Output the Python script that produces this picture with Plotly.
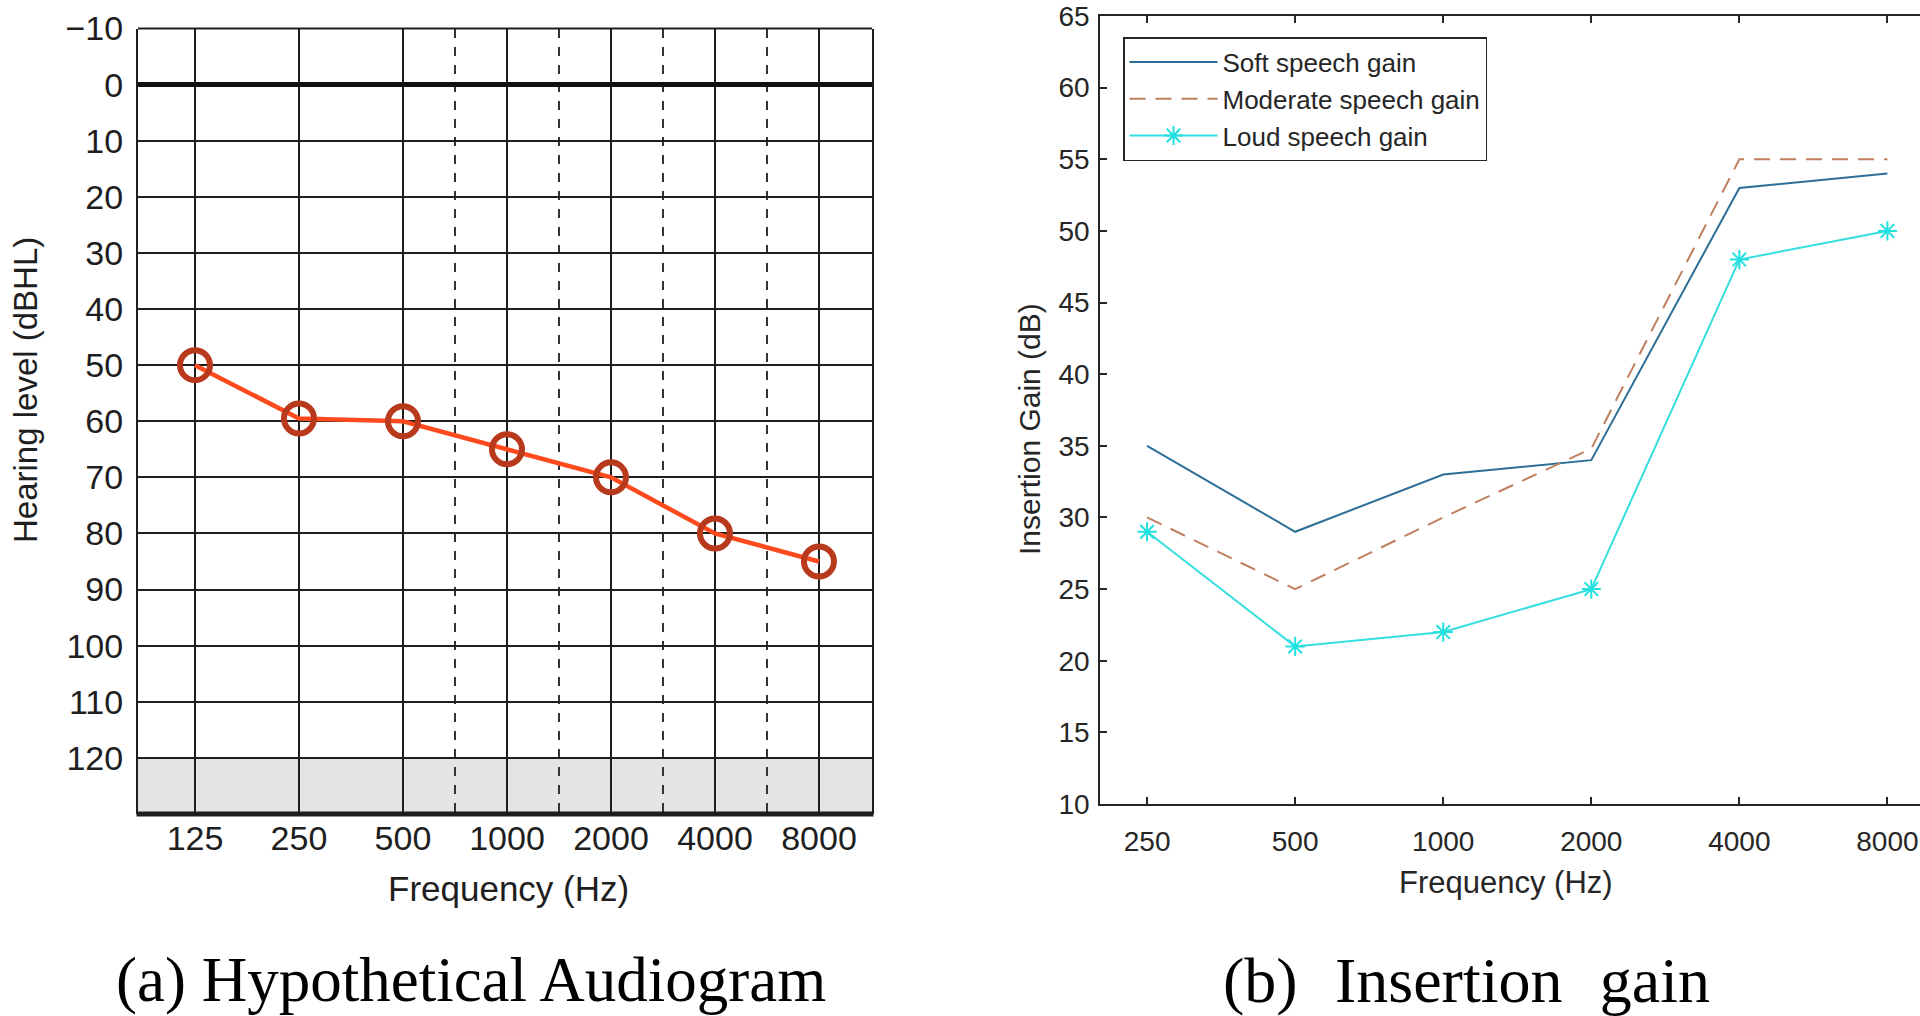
import plotly.graph_objects as go

# ---------------- data ----------------
audio_freq_labels = ["125", "250", "500", "1000", "2000", "4000", "8000"]
audio_levels = [50, 59.5, 60, 65, 70, 80, 85]
audio_y_ticks = [-10, 0, 10, 20, 30, 40, 50, 60, 70, 80, 90, 100, 110, 120]
audio_y_ticktext = ["\u221210", "0", "10", "20", "30", "40", "50", "60", "70",
                    "80", "90", "100", "110", "120"]
audio_half_octaves = [2.5, 3.5, 4.5, 5.5]

gain_freq_labels = ["250", "500", "1000", "2000", "4000", "8000"]
soft_gain = [35, 29, 33, 34, 53, 54]
moderate_gain = [30, 25, 30, 34.8, 55, 55]
loud_gain = [29, 21, 22, 25, 48, 50]
gain_y_ticks = [10, 15, 20, 25, 30, 35, 40, 45, 50, 55, 60, 65]

W, H = 1920, 1016

def px_x(p):
    return p / W

def px_y(p):
    return 1 - p / H

fig = go.Figure()

# ---------------- left: audiogram ----------------
audio_x = list(range(len(audio_freq_labels)))
fig.add_trace(go.Scatter(
    x=audio_x, y=audio_levels, mode="lines+markers",
    line=dict(color="#ff4a1e", width=4.5),
    marker=dict(symbol="circle-open", size=30, color="#b8391c",
                line=dict(width=6, color="#b8391c")),
    showlegend=False, xaxis="x", yaxis="y"))

# ---------------- right: insertion gain ----------------
gain_x = list(range(len(gain_freq_labels)))
fig.add_trace(go.Scatter(
    x=gain_x, y=soft_gain, mode="lines", name="Soft speech gain",
    line=dict(color="#2d6e98", width=2), xaxis="x2", yaxis="y2"))
fig.add_trace(go.Scatter(
    x=gain_x, y=moderate_gain, mode="lines", name="Moderate speech gain",
    line=dict(color="#c08060", width=2, dash="16px,10px"), xaxis="x2", yaxis="y2"))
fig.add_trace(go.Scatter(
    x=gain_x, y=loud_gain, mode="lines+markers", name="Loud speech gain",
    line=dict(color="#35dede", width=2),
    marker=dict(symbol="asterisk-open", size=16, color="#22e0e0",
                line=dict(width=2, color="#22e0e0")),
    xaxis="x2", yaxis="y2"))

left_dom_x = [px_x(138), px_x(872)]
left_dom_y = [px_y(814), px_y(28.5)]
right_dom_x = [px_x(1100), 1.0]
right_dom_y = [px_y(804), px_y(16)]

sans = "Liberation Sans, Arial, sans-serif"
serif = "Liberation Serif, Times New Roman, serif"
wide_sp = "\u2002\u200a"

fig.update_layout(
    width=W, height=H,
    margin=dict(l=0, r=0, t=0, b=0, autoexpand=False),
    paper_bgcolor="white", plot_bgcolor="white",
    xaxis=dict(
        domain=left_dom_x, range=[-0.548, 6.51], automargin=False,
        anchor="free", position=px_y(815),
        tickmode="array", tickvals=audio_x, ticktext=audio_freq_labels,
        showgrid=True, gridcolor="#1e1e1e", gridwidth=2,
        minor=dict(tickvals=audio_half_octaves, showgrid=True, griddash="dash",
                   gridcolor="#333333", gridwidth=1.5, ticks=""),
        zeroline=False, ticks="", ticklen=0,
        showline=False,
        tickfont=dict(family=sans, size=34, color="#1e1e1e"),
        ticklabelstandoff=0, fixedrange=True),
    yaxis=dict(
        domain=left_dom_y, range=[130, -10], automargin=False,
        tickmode="array", tickvals=audio_y_ticks, ticktext=audio_y_ticktext,
        showgrid=True, gridcolor="#1e1e1e", gridwidth=2,
        zeroline=True, zerolinecolor="#111111", zerolinewidth=4.5,
        ticks="", ticklen=0, showline=True, linecolor="#1e1e1e", linewidth=2, mirror=True,
        tickfont=dict(family=sans, size=34, color="#1e1e1e"),
        ticklabelstandoff=6, fixedrange=True),
    xaxis2=dict(
        domain=right_dom_x, range=[-0.318, 5.22], anchor="y2", automargin=False,
        tickmode="array", tickvals=gain_x, ticktext=gain_freq_labels,
        showgrid=False, zeroline=False,
        ticks="inside", ticklen=7, tickwidth=1.5, tickcolor="#262626",
        showline=True, linecolor="#262626", linewidth=1.5, mirror="ticks",
        tickfont=dict(family=sans, size=28, color="#262626"),
        ticklabelstandoff=12, fixedrange=True),
    yaxis2=dict(
        domain=right_dom_y, range=[10, 65], anchor="x2", automargin=False,
        tickmode="array", tickvals=gain_y_ticks,
        showgrid=False, zeroline=False, ticklabeloverflow="allow",
        ticks="inside", ticklen=7, tickwidth=1.5, tickcolor="#262626",
        showline=True, linecolor="#262626", linewidth=1.5, mirror=False,
        tickfont=dict(family=sans, size=28, color="#262626"),
        ticklabelstandoff=3, fixedrange=True),
    legend=dict(
        x=px_x(1123), y=px_y(37), xanchor="left", yanchor="top",
        bordercolor="#262626", borderwidth=1.5, bgcolor="white",
        font=dict(family=sans, size=26, color="#262626"),
        itemwidth=88, tracegroupgap=0),
    shapes=[
        dict(type="rect", xref="x domain", yref="y", x0=0, x1=1, y0=120, y1=130,
             fillcolor="#e4e4e4", line=dict(width=0), layer="below"),
        dict(type="line", xref="x domain", yref="y domain", x0=0, x1=1, y0=1, y1=1,
             line=dict(color="#1e1e1e", width=2)),
        dict(type="line", xref="x domain", yref="y domain", x0=-0.002, x1=1.002, y0=0, y1=0,
             line=dict(color="#1e1e1e", width=5)),
    ],
    annotations=[
        dict(text="Hearing level (dBHL)", x=px_x(25), y=px_y(390), xref="paper", yref="paper",
             xanchor="center", yanchor="middle",
             textangle=-90, showarrow=False, font=dict(family=sans, size=33, color="#1e1e1e")),
        dict(text="Frequency (Hz)", x=px_x(508), y=px_y(888), xref="paper", yref="paper",
             xanchor="center", yanchor="middle",
             showarrow=False, font=dict(family=sans, size=35, color="#1e1e1e")),
        dict(text="Insertion Gain (dB)", x=px_x(1029), y=px_y(429), xref="paper", yref="paper",
             xanchor="center", yanchor="middle",
             textangle=-90, showarrow=False, font=dict(family=sans, size=30, color="#262626")),
        dict(text="Frequency (Hz)", x=px_x(1506), y=px_y(882), xref="paper", yref="paper",
             xanchor="center", yanchor="middle",
             showarrow=False, font=dict(family=sans, size=31, color="#262626")),
        dict(text="(a) Hypothetical Audiogram", x=px_x(471), y=px_y(980), xref="paper", yref="paper",
             xanchor="center", yanchor="middle",
             showarrow=False, font=dict(family=serif, size=63, color="#000000")),
        dict(text="(b)" + wide_sp + "Insertion" + wide_sp + "gain", x=px_x(1466), y=px_y(980),
             xref="paper", yref="paper", xanchor="center", yanchor="middle",
             showarrow=False, font=dict(family=serif, size=64, color="#000000")),
    ],
)

fig.write_html("out.html", config={"displayModeBar": False},
               post_script="document.body.style.margin='0';")
